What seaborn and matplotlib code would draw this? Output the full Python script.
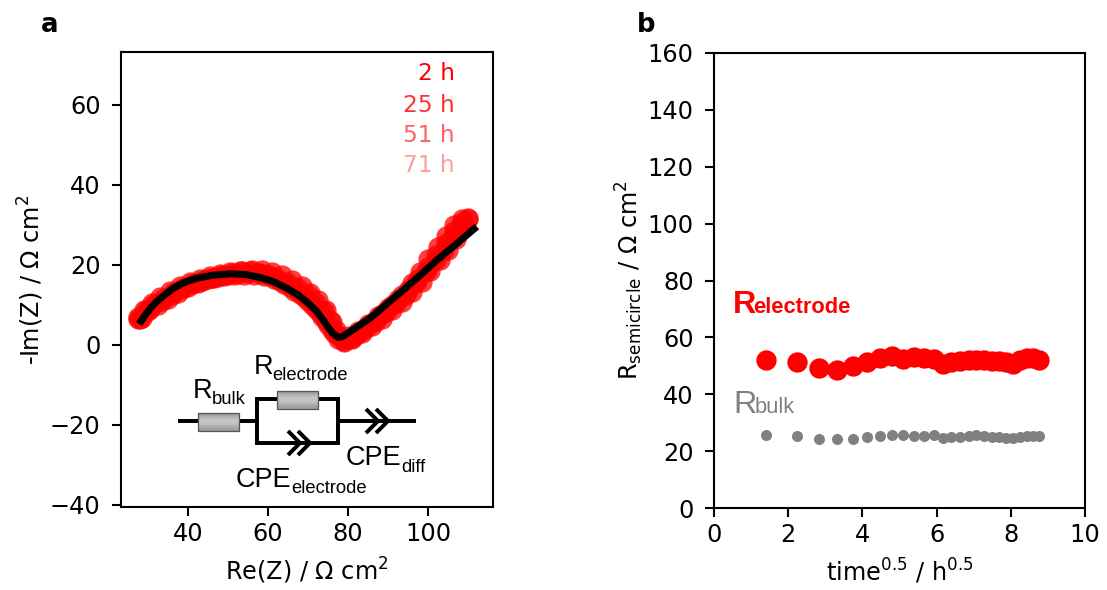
"""
Impedance spectra and fitted semicircle resistance over time
"""
import numpy as np
import pandas as pd
import matplotlib
matplotlib.use('Agg')
import matplotlib.pyplot as plt
import seaborn as sns

hours = ['2 h', '25 h', '51 h', '71 h']
hour_colors = ['#ff0000', '#ff3030', '#ff6060', '#ff9c9c']

re_2h = [27.5, 29, 31, 33, 35.5, 38, 40.5, 43, 45.5, 48, 50.5, 53, 55.5, 58, 60.5, 63, 65.5, 68, 70, 72, 73.5, 75, 76.5, 78, 80, 82.5, 85, 87.5, 90, 92.5, 95, 97.5, 100, 102, 104.5, 106.5, 108.5, 110]
im_2h = [7, 8.8, 10.5, 12, 13.5, 14.8, 15.8, 16.6, 17.2, 17.8, 18.2, 18.4, 18.4, 18, 17.2, 16, 14.6, 12.8, 11, 9, 7, 5, 3, 2, 2.2, 3.4, 5.2, 7.2, 9.2, 11.4, 13.8, 16.4, 19.6, 22.5, 25.5, 28.5, 30.8, 31.8]
re_25h = [27.5, 29.5, 31.5, 34, 36.5, 39, 41.5, 44, 46.5, 49, 51.5, 54, 56.5, 59, 61.5, 64, 66.5, 69, 71, 73, 74.5, 76, 77.5, 79, 81, 83.5, 86, 88.5, 91, 93.5, 96, 98.5, 100.5, 103, 105, 107, 109]
im_25h = [6.6, 8.8, 10.2, 11.8, 13.2, 14.4, 15.6, 16.2, 16.8, 17.2, 17.4, 17.6, 17.6, 17.2, 16.4, 15.2, 13.6, 12, 10, 8, 6, 3.8, 1.6, 1, 1.8, 3, 4.8, 6.6, 8.8, 10.8, 13.2, 15.8, 18.4, 21.2, 23.8, 26.5, 29.5]
re_51h = [28, 30, 32.5, 35, 37.5, 40, 42.5, 45, 47.5, 50, 52.5, 55, 57.5, 60, 62.5, 65, 67.5, 70, 72, 74, 75.5, 77, 78.5, 80, 82, 84.5, 87, 89.5, 92, 94.5, 97, 99.5, 102, 104, 106, 108, 110]
im_51h = [6.4, 8.4, 10, 11.6, 13, 14.4, 15.4, 16.4, 17, 17.6, 17.8, 18, 18, 17.4, 16.6, 15.6, 14.2, 12.4, 10.6, 8.4, 6.2, 3.8, 1.8, 1.4, 2.4, 4.2, 6, 8.2, 10.4, 12.6, 15.4, 18.2, 21.2, 23.8, 26.6, 29.6, 31.6]
re_71h = [28.5, 30.5, 33.5, 36, 38.5, 41, 43.5, 46, 48.5, 51, 53.5, 56, 58.5, 61, 63.5, 66, 68.5, 70.5, 72.5, 74.5, 76, 77.5, 79, 81, 83.5, 86, 88.5, 91, 93.5, 96, 98, 100, 102.5, 104.5, 106.5, 108.5]
im_71h = [6.8, 9, 11, 12.6, 14, 15.2, 16, 16.8, 17.4, 18, 18.6, 18.8, 18.8, 18.2, 17.4, 16.2, 14.8, 13, 11.2, 8.8, 5.8, 2.6, 0.8, 1.6, 3.4, 5.6, 7.8, 10, 12.4, 15.4, 18.2, 21.4, 24.4, 27.2, 30, 31.4]

fit_re = [27.75, 29.5, 31.3, 33.5, 36.3, 39, 42.2, 46, 50.5, 54.5, 58, 61.5, 64.7, 67.5, 69.7, 72, 73.8, 75.2, 76.3, 77.6, 78.6, 79.7, 82.5, 85.5, 89.5, 93.8, 98, 102.2, 107, 112.2]
fit_im = [5.25, 7.8, 10, 12, 14.2, 15.6, 16.7, 17.4, 17.8, 17.6, 16.9, 15.8, 14.2, 12.5, 10.8, 8.6, 6.25, 4.2, 2.8, 1.9, 2.1, 2.8, 4.7, 6.7, 10.1, 13.75, 17.4, 21.2, 25.2, 29.6]

sqrt_time = [1.41, 2.24, 2.83, 3.32, 3.74, 4.12, 4.47, 4.80, 5.10, 5.39, 5.66, 5.92, 6.16, 6.40, 6.63, 6.86, 7.07, 7.28, 7.48, 7.68, 7.87, 8.06, 8.25, 8.43, 8.60, 8.77]
r_electrode = [51.9, 51.2, 49.4, 48.7, 50.0, 51.5, 52.6, 53.3, 52.5, 53.0, 52.7, 52.5, 50.5, 51.3, 51.8, 52.1, 52.1, 52.0, 51.8, 51.6, 51.2, 50.7, 52.0, 52.6, 52.6, 52.2]
r_bulk = [25.5, 25.2, 24.3, 24.3, 24.3, 25.1, 25.4, 25.5, 25.7, 25.2, 25.2, 25.5, 24.5, 24.8, 25.1, 25.2, 25.5, 25.2, 25.1, 25.0, 24.5, 24.5, 25.0, 25.4, 25.4, 25.2]

sns.set_style('ticks')
plt.rcParams['font.family'] = ['DejaVu Sans']
plt.rcParams['font.size'] = 11
plt.rcParams['axes.linewidth'] = 1.0
plt.rcParams['text.color'] = 'black'
plt.rcParams['axes.labelcolor'] = 'black'
plt.rcParams['xtick.color'] = 'black'
plt.rcParams['ytick.color'] = 'black'
plt.rcParams['axes.edgecolor'] = 'black'

W, H = 1107, 590
fig = plt.figure(figsize=(W / 150, H / 150), dpi=150)


def px_axes(left, top, right, bottom):
    return fig.add_axes([left / W, 1 - bottom / H, (right - left) / W, (bottom - top) / H])


ax_a = px_axes(121, 52, 493, 507)
ax_b = px_axes(714, 53, 1085, 508)

# a: later hours go underneath so the 2 h series stays the strongest red
series = [(re_2h, im_2h), (re_25h, im_25h), (re_51h, im_51h), (re_71h, im_71h)]
for i in [3, 2, 1, 0]:
    df = pd.DataFrame({'re': series[i][0], 'im': series[i][1]})
    sns.scatterplot(data=df, x='re', y='im', ax=ax_a, color='red', alpha=0.75,
                    s=95, linewidth=0, zorder=2 + (3 - i))
sns.lineplot(x=fit_re, y=fit_im, ax=ax_a, color='black', lw=3.4, zorder=8, sort=False,
             estimator=None, solid_joinstyle='round', solid_capstyle='butt')
ax_a.set_xlim(23.25, 116.25)
ax_a.set_ylim(-40.5, 73.25)
ax_a.set_xticks([40, 60, 80, 100])
ax_a.set_yticks([-40, -20, 0, 20, 40, 60])
ax_a.set_xlabel('Re(Z) / Ω cm$^2$', fontsize=11.5, labelpad=5)
ax_a.set_ylabel('-Im(Z) / Ω cm$^2$', fontsize=11.5, labelpad=2)
ax_a.tick_params(labelsize=11.5, width=1.0, length=4.3)
ax_a.tick_params(axis='y', pad=5.5)
ax_a.tick_params(axis='x', pad=2.8)

# b
sns.scatterplot(x=sqrt_time, y=r_electrode, ax=ax_b, color='red', s=95, linewidth=0)
sns.scatterplot(x=sqrt_time, y=r_bulk, ax=ax_b, color='#808080', s=28, linewidth=0)
ax_b.set_xlim(0, 10)
ax_b.set_ylim(0, 160)
ax_b.set_xticks(range(0, 11, 2))
ax_b.set_yticks(range(0, 161, 20))
ax_b.set_xlabel('time$^{0.5}$ / h$^{0.5}$', fontsize=11.5, labelpad=5)
ax_b.set_ylabel('R$_{\\mathrm{semicircle}}$ / Ω cm$^2$', fontsize=11.5, labelpad=1)
ax_b.tick_params(labelsize=11.5, width=1.0, length=4.3)
ax_b.tick_params(axis='y', pad=5.5)
ax_b.tick_params(axis='x', pad=2.8)

# overlay in image pixels for the hour labels, panel letters and the circuit
ov = fig.add_axes([0, 0, 1, 1], zorder=10)
ov.set_xlim(0, W)
ov.set_ylim(H, 0)
ov.axis('off')
ov.patch.set_alpha(0)

for label, color, y in zip(hours, hour_colors, [74, 105, 135, 165]):
    ov.text(455, y, label, color=color, ha='right', va='center', fontsize=11.2)

ov.text(50, 25, 'a', fontweight='bold', fontsize=12.5, ha='center', va='center')
ov.text(646, 25, 'b', fontweight='bold', fontsize=12.5, ha='center', va='center')


def sans(x, y, text, size, color='black', weight='normal'):
    ov.text(x, y, text, fontsize=size, color=color, fontweight=weight,
            family='Liberation Sans', va='baseline', ha='left')


# R_electrode / R_bulk labels of panel b
sans(733, 313, 'R', 15.5, 'red', 'bold')
sans(753, 313, 'electrode', 10.5, 'red', 'bold')
sans(733, 413, 'R', 15.5, '#808080')
sans(755, 413, 'bulk', 10.5, '#808080')

# circuit wires
wire = dict(color='black', lw=1.9, solid_capstyle='butt', solid_joinstyle='miter')
ov.plot([178, 257], [421, 421], **wire)
ov.plot([257, 257, 338, 338, 257, 257], [421, 399, 399, 443, 443, 421], **wire)
ov.plot([338, 416], [421, 421], **wire)

for cx, cy in [(300, 443), (310, 443), (378, 421), (388, 421)]:
    ov.plot([cx - 12, cx, cx - 12], [cy - 12, cy, cy + 12], **wire)

# resistors with a soft grey gradient
grad = np.array([0.62, 0.72, 0.78, 0.76, 0.68, 0.62]).reshape(-1, 1)
for x0, x1, y0, y1 in [(198, 239, 413, 431), (277, 318, 391, 409)]:
    ov.imshow(grad, extent=(x0, x1, y1, y0), cmap='gray', vmin=0, vmax=1, aspect='auto',
              zorder=3, interpolation='bilinear')
    ov.add_patch(plt.Rectangle((x0, y0), x1 - x0, y1 - y0, fill=False, ec='#555555',
                               lw=0.6, zorder=4))
ov.set_xlim(0, W)
ov.set_ylim(H, 0)

sans(193, 398, 'R', 13)
sans(212, 404, 'bulk', 8.8)
sans(254, 374, 'R', 13)
sans(272, 380, 'electrode', 8.8)
sans(236, 487, 'CPE', 13)
sans(291, 493, 'electrode', 8.8)
sans(346, 465, 'CPE', 13)
sans(401, 472, 'diff', 8.8)

fig.savefig('out.png', dpi=150)
